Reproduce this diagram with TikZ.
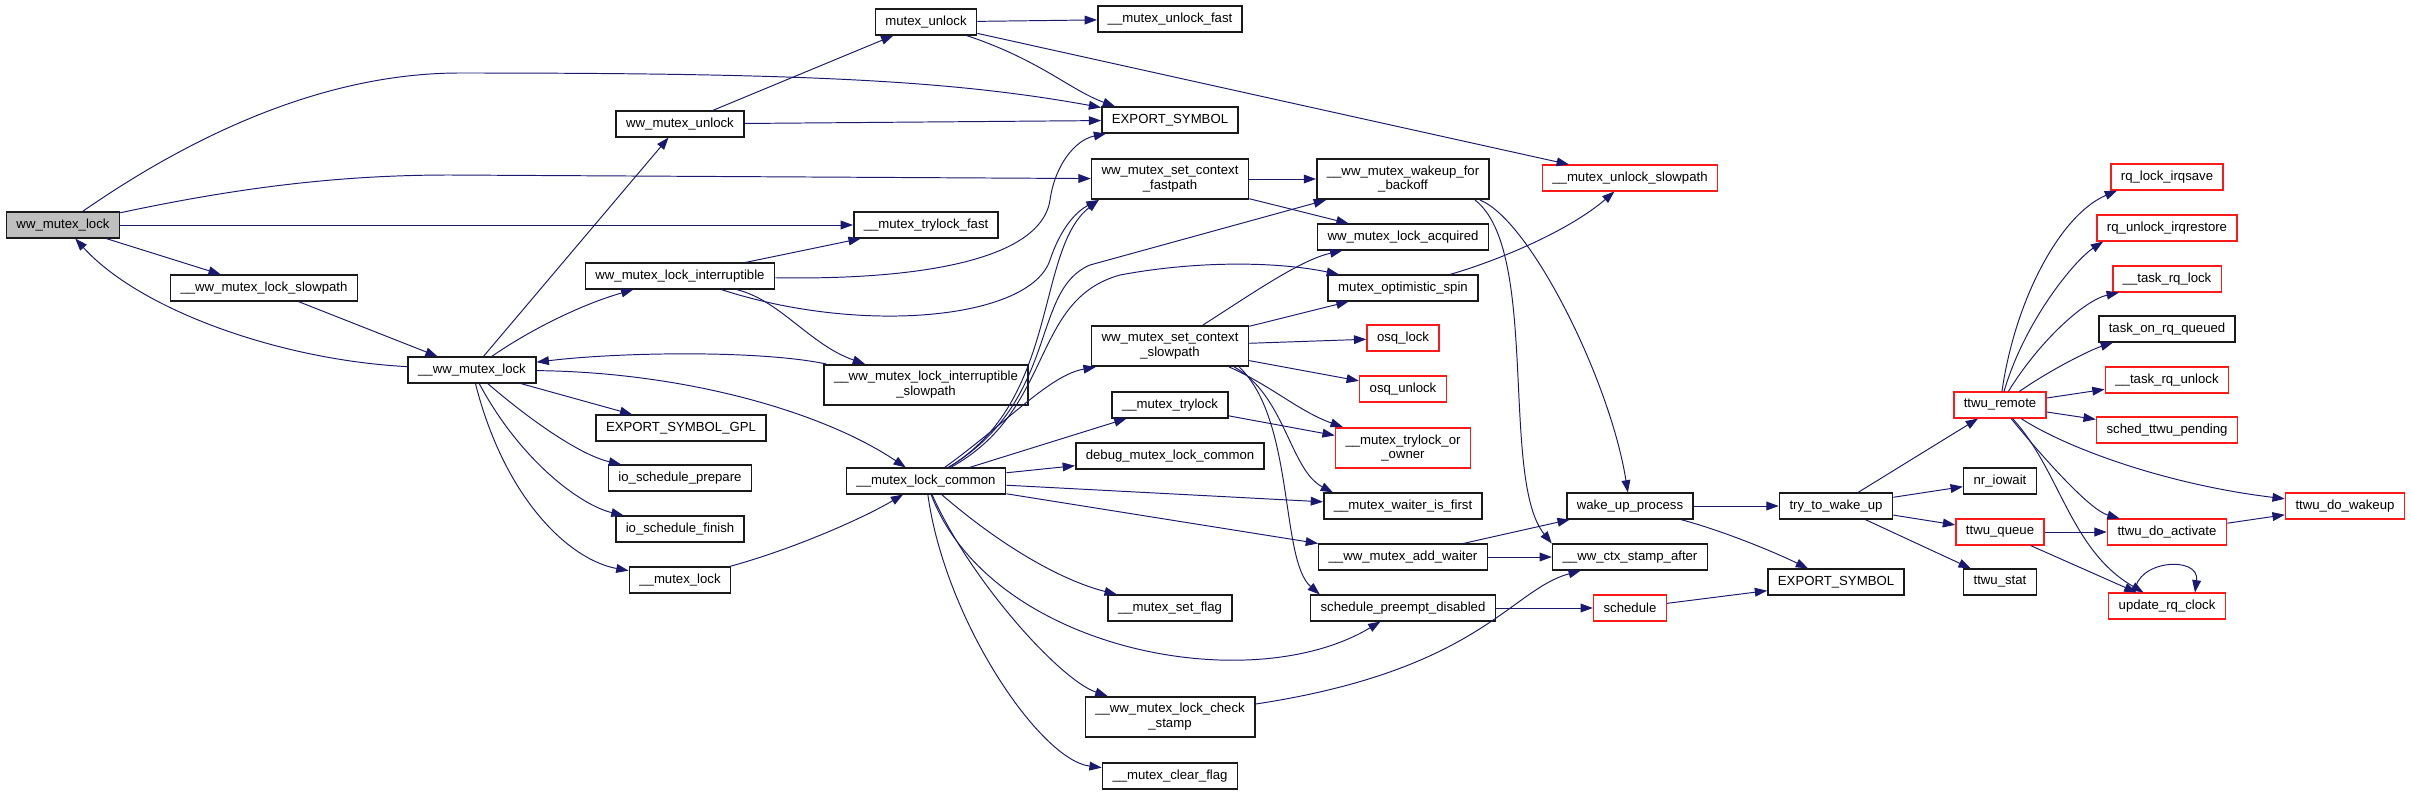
\documentclass[tikz,border=0pt]{standalone}
\usepackage{fontspec}
\setmainfont{Liberation Sans}
\usetikzlibrary{arrows.meta}
\definecolor{EdgeBlue}{HTML}{191970}
\definecolor{TruncRed}{HTML}{FF1A1A}
\definecolor{RootGray}{HTML}{BFBFBF}
\definecolor{BoxInk}{HTML}{1A1A1A}
\tikzset{
  fn/.style={draw=BoxInk, line width=0.9pt, rectangle, inner xsep=0.2cm, inner ysep=1pt,
    minimum height=0.51cm, align=center, font=\fontsize{7.5}{8.5}\selectfont},
  twoline/.style={minimum height=0.81cm},
  trunc/.style={fn, draw=TruncRed},
  rootfn/.style={fn, fill=RootGray},
  call/.style={EdgeBlue, line width=0.55pt, -{Triangle[length=7pt,width=5pt]}},
}
\begin{document}
\begin{tikzpicture}[x=0.02cm, y=-0.02cm]
  \useasboundingbox (0,0) rectangle (2411,795);
  % callers
  \node[rootfn] (wwlock) at (63,225) {ww\_mutex\_lock};
  \node[fn] (wwslow) at (264,288) {\_\_ww\_mutex\_lock\_slowpath};
  \node[fn] (wwlk) at (472,370) {\_\_ww\_mutex\_lock};
  \node[fn] (wwunlock) at (680,124) {ww\_mutex\_unlock};
  \node[fn] (wwintr) at (680,276) {ww\_mutex\_lock\_interruptible};
  \node[fn] (gplsym) at (681,428) {EXPORT\_SYMBOL\_GPL};
  \node[fn] (iosprep) at (680,478) {io\_schedule\_prepare};
  \node[fn] (iosfin) at (680,529) {io\_schedule\_finish};
  \node[fn] (mlock) at (680,580) {\_\_mutex\_lock};
  \node[fn] (munlock) at (926,22) {mutex\_unlock};
  \node[fn] (trylockfast) at (926,225) {\_\_mutex\_trylock\_fast};
  \node[fn, twoline] (intrslow) at (926,385) {\_\_ww\_mutex\_lock\_interruptible\\\_slowpath};
  \node[fn] (lockcommon) at (926,481) {\_\_mutex\_lock\_common};
  \node[fn] (unlockfast) at (1170,19) {\_\_mutex\_unlock\_fast};
  \node[fn] (expsym) at (1170,120) {EXPORT\_SYMBOL};
  \node[fn, twoline] (ctxfast) at (1170,179) {ww\_mutex\_set\_context\\\_fastpath};
  \node[fn, twoline] (ctxslow) at (1170,346) {ww\_mutex\_set\_context\\\_slowpath};
  \node[fn] (mtrylock) at (1170,405) {\_\_mutex\_trylock};
  \node[fn] (debuglock) at (1170,456) {debug\_mutex\_lock\_common};
  \node[fn] (setflag) at (1170,608) {\_\_mutex\_set\_flag};
  \node[fn, twoline] (checkstamp) at (1170,717) {\_\_ww\_mutex\_lock\_check\\\_stamp};
  \node[fn] (clearflag) at (1170,776) {\_\_mutex\_clear\_flag};
  \node[fn, twoline] (backoff) at (1403,179) {\_\_ww\_mutex\_wakeup\_for\\\_backoff};
  \node[fn] (acquired) at (1403,237) {ww\_mutex\_lock\_acquired};
  \node[fn] (optspin) at (1403,288) {mutex\_optimistic\_spin};
  \node[trunc] (osqlock) at (1403,338) {osq\_lock};
  \node[trunc] (osqunlock) at (1403,389) {osq\_unlock};
  \node[trunc, twoline] (trylockowner) at (1403,448) {\_\_mutex\_trylock\_or\\\_owner};
  \node[fn] (waiterfirst) at (1403,506) {\_\_mutex\_waiter\_is\_first};
  \node[fn] (addwaiter) at (1403,557) {\_\_ww\_mutex\_add\_waiter};
  \node[fn] (preempt) at (1403,608) {schedule\_preempt\_disabled};
  \node[trunc] (unlockslow) at (1630,178) {\_\_mutex\_unlock\_slowpath};
  \node[fn] (wakeproc) at (1630,506) {wake\_up\_process};
  \node[fn] (stampafter) at (1630,557) {\_\_ww\_ctx\_stamp\_after};
  \node[trunc] (sched) at (1630,608) {schedule};
  \node[fn] (trywake) at (1836,506) {try\_to\_wake\_up};
  \node[fn] (expsymb) at (1836,582) {EXPORT\_SYMBOL};
  \node[trunc] (ttwuremote) at (2000,405) {ttwu\_remote};
  \node[fn] (nriowait) at (2000,481) {nr\_iowait};
  \node[trunc] (ttwuqueue) at (2000,532) {ttwu\_queue};
  \node[fn] (ttwustat) at (2000,582) {ttwu\_stat};
  \node[trunc] (rqlock) at (2167,177) {rq\_lock\_irqsave};
  \node[trunc] (rqunlock) at (2167,228) {rq\_unlock\_irqrestore};
  \node[trunc] (taskrqlock) at (2167,279) {\_\_task\_rq\_lock};
  \node[fn] (onrq) at (2167,329) {task\_on\_rq\_queued};
  \node[trunc] (taskrqunlock) at (2167,380) {\_\_task\_rq\_unlock};
  \node[trunc] (schedpend) at (2167,430) {sched\_ttwu\_pending};
  \node[trunc] (doactivate) at (2167,532) {ttwu\_do\_activate};
  \node[trunc] (updclock) at (2167,606) {update\_rq\_clock};
  \node[trunc] (dowakeup) at (2345,506) {ttwu\_do\_wakeup};

  % calls
  \draw[call] (wwlock) .. controls (200,130) and (330,73) .. (460,73) .. controls (800,73) and (950,80) .. (expsym);
  \draw[call] (wwlock) .. controls (250,185) and (350,175) .. (450,175) -- (ctxfast);
  \draw[call] (wwlock) -- (trylockfast);
  \draw[call] (wwlock) -- (wwslow);
  \draw[call] (wwslow) -- (wwlk);
  \draw[call] (wwlk) .. controls (280,360) and (140,310) .. (wwlock);
  \draw[call] (wwlk) -- (wwunlock);
  \draw[call] (wwlk) .. controls (530,330) and (580,305) .. (wwintr);
  \draw[call] (wwlk) -- (gplsym);
  \draw[call] (wwlk) .. controls (530,420) and (580,455) .. (iosprep);
  \draw[call] (wwlk) .. controls (520,460) and (580,505) .. (iosfin);
  \draw[call] (wwlk) .. controls (505,500) and (570,560) .. (mlock);
  \draw[call] (wwlk) .. controls (680,372) and (820,410) .. (lockcommon);
  \draw[call] (mlock) .. controls (790,550) and (860,520) .. (lockcommon);
  \draw[call] (intrslow) .. controls (760,350) and (620,352) .. (wwlk);
  \draw[call] (wwintr) .. controls (780,300) and (810,345) .. (intrslow);
  \draw[call] (wwintr) .. controls (860,335) and (1030,320) .. (1050,260) .. controls (1060,230) and (1075,212) .. ([xshift=0.16cm]ctxfast.south west);
  \draw[call] (wwintr) .. controls (900,280) and (1040,265) .. (1050,200) .. controls (1055,165) and (1075,140) .. ([xshift=0.1cm]expsym.south west);
  \draw[call] (wwintr) -- (trylockfast);
  \draw[call] (wwunlock) -- (munlock);
  \draw[call] (wwunlock) -- (expsym);
  \draw[call] (munlock) -- (unlockfast);
  \draw[call] (munlock) .. controls (1040,60) and (1070,90) .. ([xshift=0.28cm]expsym.north west);
  \draw[call] (munlock) -- (unlockslow);
  \draw[call] (ctxfast) -- (backoff);
  \draw[call] (ctxfast) -- (acquired);
  \draw[call] (ctxslow) .. controls (1250,295) and (1300,260) .. (acquired);
  \draw[call] (ctxslow) -- (optspin);
  \draw[call] (ctxslow) -- (osqlock);
  \draw[call] (ctxslow) -- (osqunlock);
  \draw[call] ([xshift=-0.4cm]ctxslow.south east) .. controls (1270,385) and (1300,412) .. (trylockowner);
  \draw[call] ([xshift=-0.3cm]ctxslow.south east) .. controls (1285,395) and (1290,470) .. ([xshift=0.2cm]waiterfirst.north west);
  \draw[call] ([xshift=-0.2cm]ctxslow.south east) .. controls (1295,420) and (1280,560) .. ([xshift=0.2cm]preempt.north west);
  \draw[call] (lockcommon) .. controls (1060,400) and (1035,250) .. ([xshift=0.16cm]ctxfast.south west);
  \draw[call] (lockcommon) .. controls (1060,400) and (1030,290) .. (1090,265) -- ([xshift=0.2cm]backoff.south west);
  \draw[call] (lockcommon) .. controls (1055,410) and (1030,300) .. (1120,275) .. controls (1200,260) and (1280,262) .. (optspin);
  \draw[call] (lockcommon) .. controls (1010,420) and (1050,375) .. ([xshift=0.1cm]ctxslow.south west);
  \draw[call] (lockcommon) -- (mtrylock);
  \draw[call] (lockcommon) -- (debuglock);
  \draw[call] (lockcommon) -- (waiterfirst);
  \draw[call] (lockcommon) -- (addwaiter);
  \draw[call] (lockcommon) .. controls (1000,545) and (1060,580) .. (setflag);
  \draw[call] (lockcommon) .. controls (990,650) and (1250,700) .. (preempt);
  \draw[call] (lockcommon) .. controls (970,580) and (1060,680) .. (checkstamp);
  \draw[call] (lockcommon) .. controls (945,620) and (1040,760) .. (clearflag);
  \draw[call] (mtrylock) -- (trylockowner);
  \draw[call] (optspin) .. controls (1500,260) and (1570,230) .. (unlockslow);
  \draw[call] ([xshift=-0.2cm]backoff.south east) .. controls (1530,220) and (1610,380) .. (wakeproc);
  \draw[call] ([xshift=-0.3cm]backoff.south east) .. controls (1540,250) and (1500,480) .. (stampafter.north west);
  \draw[call] (addwaiter) -- (wakeproc);
  \draw[call] (addwaiter) -- (stampafter);
  \draw[call] (checkstamp) .. controls (1480,670) and (1510,590) .. (stampafter);
  \draw[call] (preempt) -- (sched);
  \draw[call] (sched) -- (expsymb);
  \draw[call] (wakeproc) -- (trywake);
  \draw[call] (wakeproc) .. controls (1720,530) and (1770,550) .. (expsymb);
  \draw[call] (trywake) -- (ttwuremote);
  \draw[call] (trywake) -- (nriowait);
  \draw[call] (trywake) -- (ttwuqueue);
  \draw[call] (trywake) -- (ttwustat);
  \draw[call] (ttwuremote) .. controls (2015,300) and (2060,215) .. ([xshift=0.14cm]rqlock.south west);
  \draw[call] (ttwuremote) .. controls (2025,320) and (2075,260) .. ([xshift=0.14cm]rqunlock.south west);
  \draw[call] (ttwuremote) .. controls (2040,340) and (2085,300) .. ([xshift=0.14cm]taskrqlock.south west);
  \draw[call] (ttwuremote) .. controls (2050,370) and (2090,350) .. ([xshift=0.3cm]onrq.south west);
  \draw[call] (ttwuremote) -- (taskrqunlock);
  \draw[call] (ttwuremote) -- (schedpend);
  \draw[call] (ttwuremote) .. controls (2070,450) and (2170,485) .. (dowakeup);
  \draw[call] (ttwuremote) .. controls (2045,460) and (2090,510) .. (doactivate);
  \draw[call] (ttwuremote) .. controls (2060,470) and (2070,550) .. (updclock);
  \draw[call] (ttwuqueue) -- (doactivate);
  \draw[call] (ttwuqueue) -- (updclock);
  \draw[call] (doactivate) -- (dowakeup);
  \draw[call] ([xshift=-0.64cm]updclock.north) .. controls (2135,560) and (2200,555) .. ([xshift=0.56cm]updclock.north);
\end{tikzpicture}
\end{document}
